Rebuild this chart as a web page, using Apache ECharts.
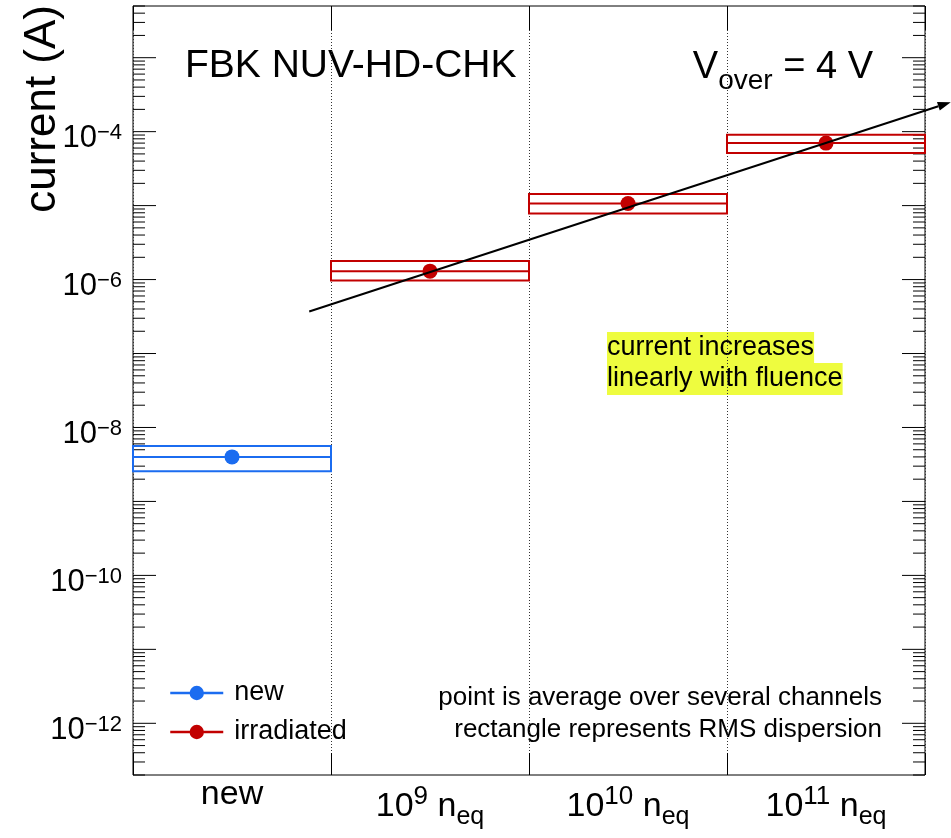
<!DOCTYPE html>
<html lang="en">
<head>
    <meta charset="UTF-8">
    <title>FBK NUV-HD-CHK current vs fluence</title>
    <script src="https://cdn.jsdelivr.net/npm/echarts@6.0.0/dist/echarts.min.js"></script>
    <style>
        html, body { margin: 0; padding: 0; background: #fff; }
        #container { width: 951px; height: 838px; }
    </style>
</head>
<body>
<div id="container"></div>
<script type="text/javascript">
    // tick labels of the fluence axis (^ = superscript, _ = subscript)
    var categories = ['new', '10^9 n_eq', '10^10 n_eq', '10^11 n_eq'];

    // labelled decades on the current axis
    var yTickLabels = [1e-12, 1e-10, 1e-8, 1e-6, 1e-4];

    // mean current per group (A) and the RMS band around it
    var meanCurrent = [4.0e-9, 1.30e-6, 1.07e-5, 7.0e-5];
    var rmsLow = [2.56e-9, 9.75e-7, 7.85e-6, 5.14e-5];
    var rmsHigh = [5.6e-9, 1.78e-6, 1.43e-5, 9.1e-5];

    // which group is new / irradiated
    var newIdx = [0];
    var irradIdx = [1, 2, 3];

    // the "linear with fluence" guide arrow, x in category units (0..4)
    var trendX = [0.89, 4.13];
    var trendY = [3.7e-7, 2.5e-4];

    // y range
    var yMin = 2e-13;
    var yMax = 5e-3;

    var blue = '#1b6cf0';
    var red = '#c20000';
    var font = 'Liberation Sans, Arial, Helvetica, sans-serif';

    var dom = document.getElementById('container');
    var myChart = echarts.init(dom);

    // log ticks, 1..9 per decade
    var tickData = [];
    for (var e = -13; e <= -3; e++) {
        for (var m = 1; m <= 9; m++) {
            var v = m * Math.pow(10, e);
            if (v >= yMin * 0.999 && v <= yMax * 1.001) {
                tickData.push([0, v, m === 1 ? 1 : 0]);
            }
        }
    }

    var boxData = function (idx) {
        return idx.map(function (i) {
            return [i, rmsLow[i], rmsHigh[i], meanCurrent[i]];
        });
    };
    var pointData = function (idx) {
        return meanCurrent.map(function (v, i) {
            return idx.indexOf(i) >= 0 ? v : '-';
        });
    };

    var renderBox = function (color) {
        return function (params, api) {
            var lo = api.coord([api.value(0), api.value(1)]);
            var hi = api.coord([api.value(0), api.value(2)]);
            var mid = api.coord([api.value(0), api.value(3)]);
            var w = api.size([1, 0])[0];
            var x0 = lo[0] - w / 2;
            return {
                type: 'group',
                children: [{
                    type: 'rect',
                    shape: {x: x0, y: hi[1], width: w, height: lo[1] - hi[1]},
                    style: {fill: 'none', stroke: color, lineWidth: 2}
                }, {
                    type: 'line',
                    shape: {x1: x0, y1: mid[1], x2: x0 + w, y2: mid[1]},
                    style: {stroke: color, lineWidth: 2}
                }]
            };
        };
    };

    var xRich = {
        n: {fontSize: 34, fontFamily: font, color: '#000', lineHeight: 34, verticalAlign: 'top', padding: [3, 0, 0, 0]},
        b: {fontSize: 34, fontFamily: font, color: '#000', lineHeight: 34, verticalAlign: 'top', padding: [15, 0, 0, 0]},
        sup: {fontSize: 26, fontFamily: font, color: '#000', lineHeight: 26, verticalAlign: 'top', padding: [9, 0, 0, 0]},
        sub: {fontSize: 25, fontFamily: font, color: '#000', lineHeight: 25, verticalAlign: 'top', padding: [30, 0, 0, 0]}
    };

    var toRich = function (s) {
        if (s.indexOf('^') < 0 && s.indexOf('_') < 0) return '{n|' + s + '}';
        return s.split(' ').map(function (part) {
            var m1 = part.match(/^([^\^_]+)\^(.+)$/);
            var m2 = part.match(/^([^\^_]+)_(.+)$/);
            if (m1) return '{b|' + m1[1] + '}{sup|' + m1[2] + '}';
            if (m2) return '{b|' + m2[1] + '}{sub|' + m2[2] + '}';
            return '{b|' + part + '}';
        }).join('{b| }');
    };

    var yRich = {
        b: {fontSize: 31, fontFamily: font, fill: '#000', lineHeight: 31, verticalAlign: 'top', padding: [7, 0, 0, 0]},
        sup: {fontSize: 22, fontFamily: font, fill: '#000', lineHeight: 22, verticalAlign: 'top', padding: [6, 0, 0, 0]}
    };

    option = {
        animation: false,
        backgroundColor: '#fff',
        grid: {
            left: 133,
            top: 6,
            right: 26,
            bottom: 63,
            show: true,
            borderColor: '#000',
            borderWidth: 1
        },
        legend: {
            orient: 'vertical',
            left: 169,
            top: 678,
            padding: 0,
            itemWidth: 53,
            itemHeight: 18,
            itemGap: 9,
            data: ['new', 'irradiated'],
            lineStyle: {width: 2.5, opacity: 1},
            textStyle: {fontSize: 27, fontFamily: font, color: '#000', lineHeight: 30, padding: [0, 0, 0, 6]}
        },
        xAxis: [{
            type: 'category',
            data: categories,
            position: 'bottom',
            axisLine: {show: false},
            axisTick: {show: true, inside: true, length: 22, interval: 0, lineStyle: {color: '#000'}},
            splitLine: {show: true, interval: 0, lineStyle: {color: '#333', type: [1, 2], width: 1}},
            axisLabel: {
                margin: 0,
                interval: 0,
                formatter: function (v) { return toRich(v); },
                rich: xRich
            }
        }, {
            type: 'value',
            min: 0,
            max: 4,
            show: false
        }, {
            type: 'category',
            data: categories,
            position: 'top',
            axisLine: {show: false},
            axisTick: {show: true, inside: true, length: 24, interval: 0, lineStyle: {color: '#000'}},
            axisLabel: {show: false}
        }],
        yAxis: {
            type: 'log',
            logBase: 10,
            min: yMin,
            max: yMax,
            axisLine: {show: false},
            axisTick: {show: false},
            splitLine: {show: false},
            axisLabel: {show: false}
        },
        series: [{
            name: 'ticks',
            type: 'custom',
            silent: true,
            clip: false,
            data: tickData,
            renderItem: function (params, api) {
                var cs = params.coordSys;
                var y = api.coord([0, api.value(1)])[1];
                var len = api.value(2) ? 23 : 12;
                return {
                    type: 'group',
                    children: [{
                        type: 'line',
                        shape: {x1: cs.x, y1: y, x2: cs.x + len, y2: y},
                        style: {stroke: '#000', lineWidth: 1}
                    }, {
                        type: 'line',
                        shape: {x1: cs.x + cs.width, y1: y, x2: cs.x + cs.width - len, y2: y},
                        style: {stroke: '#000', lineWidth: 1}
                    }]
                };
            }
        }, {
            name: 'tick labels',
            type: 'custom',
            silent: true,
            clip: false,
            data: yTickLabels.map(function (v) { return [0, v]; }),
            renderItem: function (params, api) {
                var cs = params.coordSys;
                var val = api.value(1);
                var y = api.coord([0, val])[1];
                var ex = Math.round(Math.log10(val));
                return {
                    type: 'text',
                    x: cs.x - 11,
                    y: y,
                    style: {
                        text: '{b|10}{sup|\u2212' + (-ex) + '}',
                        rich: yRich,
                        align: 'right',
                        verticalAlign: 'middle'
                    }
                };
            }
        }, {
            name: 'new RMS',
            type: 'custom',
            data: boxData(newIdx),
            renderItem: renderBox(blue),
            z: 3
        }, {
            name: 'irradiated RMS',
            type: 'custom',
            data: boxData(irradIdx),
            renderItem: renderBox(red),
            z: 3
        }, {
            name: 'new',
            type: 'line',
            data: pointData(newIdx),
            symbol: 'circle',
            symbolSize: 15,
            color: blue,
            lineStyle: {width: 0},
            z: 4
        }, {
            name: 'irradiated',
            type: 'line',
            data: pointData(irradIdx),
            symbol: 'circle',
            symbolSize: 15,
            color: red,
            lineStyle: {width: 0},
            z: 4
        }, {
            name: 'trend',
            type: 'custom',
            xAxisIndex: 1,
            clip: false,
            silent: true,
            data: [[trendX[0], trendY[0], trendX[1], trendY[1]]],
            encode: {x: [0, 2], y: [1, 3]},
            renderItem: function (params, api) {
                var p0 = api.coord([api.value(0), api.value(1)]);
                var p1 = api.coord([api.value(2), api.value(3)]);
                var ang = Math.atan2(p1[1] - p0[1], p1[0] - p0[0]);
                var L = 13, H = 4.5;
                var bx = p1[0] - L * Math.cos(ang), by = p1[1] - L * Math.sin(ang);
                return {
                    type: 'group',
                    children: [{
                        type: 'line',
                        shape: {x1: p0[0], y1: p0[1], x2: bx, y2: by},
                        style: {stroke: '#000', lineWidth: 2}
                    }, {
                        type: 'polygon',
                        shape: {points: [p1,
                            [bx - H * Math.sin(ang), by + H * Math.cos(ang)],
                            [bx + H * Math.sin(ang), by - H * Math.cos(ang)]]},
                        style: {fill: '#000'}
                    }]
                };
            },
            z: 6
        }],
        graphic: [{
            type: 'text',
            x: 185,
            y: 66,
            style: {text: 'FBK NUV-HD-CHK', font: '39px ' + font, fill: '#000', verticalAlign: 'middle'}
        }, {
            type: 'text',
            x: 873,
            y: 68,
            style: {
                text: '{v|V}{s|over}{v| = 4 V}',
                align: 'right',
                verticalAlign: 'middle',
                rich: {
                    v: {fontSize: 38, fontFamily: font, fill: '#000', lineHeight: 38, verticalAlign: 'top'},
                    s: {fontSize: 28, fontFamily: font, fill: '#000', lineHeight: 28, verticalAlign: 'top', padding: [18, 0, 0, 0]}
                }
            }
        }, {
            type: 'text',
            x: 43,
            y: 5,
            rotation: Math.PI / 2,
            style: {
                text: 'current (A)', font: '44px ' + font, fill: '#000',
                align: 'right', verticalAlign: 'middle'
            }
        }, {
            type: 'text',
            left: 607,
            top: 332,
            style: {text: 'current increases', font: '27px ' + font, fill: '#000', backgroundColor: '#eefc3f', lineHeight: 31}
        }, {
            type: 'text',
            left: 607,
            top: 363,
            style: {text: 'linearly with fluence', font: '27px ' + font, fill: '#000', backgroundColor: '#eefc3f', lineHeight: 32}
        }, {
            type: 'text',
            x: 882,
            y: 682,
            style: {
                text: 'point is average over several channels\nrectangle represents RMS dispersion',
                font: '26px ' + font, fill: '#000', align: 'right', verticalAlign: 'top', lineHeight: 32
            }
        }]
    };

    if (option && typeof option === 'object') {
        myChart.setOption(option, true);
    }
</script>
</body>
</html>
